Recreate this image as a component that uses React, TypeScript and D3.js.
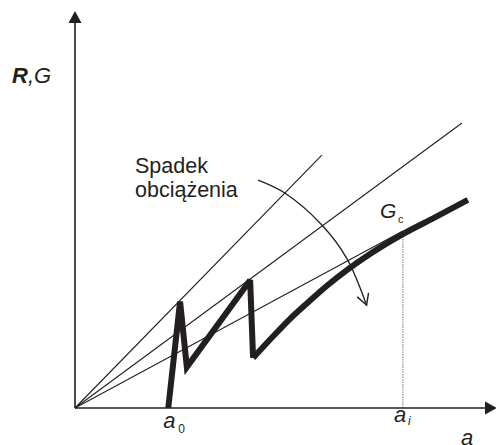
import React from "react";
import * as d3 from "d3";

const WIDTH = 496;
const HEIGHT = 445;

// Crack growth a, resistance R / energy release G (arbitrary units)
const sawtooth: [number, number][] = [
  [22.1, 0],
  [24.9, 26.8],
  [26.5, 10.3],
  [41.5, 32.2],
  [42.2, 12.6],
];

const resistanceCurve: [number, number][] = [
  [42.2, 12.6],
  [46.9, 18.0],
  [50.9, 22.4],
  [55.0, 26.4],
  [59.7, 30.8],
  [64.5, 34.8],
  [69.9, 38.8],
  [77.7, 43.8],
  [85.3, 48.0],
  [93.1, 52.4],
];

// Load lines G drawn from the origin: end points
const loadLines: [number, number][] = [
  [58.5, 63.7],
  [91.7, 71.8],
  [77.7, 44.6],
];

// "Spadek obciążenia" arc
const arcPoints: [number, number][] = [
  [43.4, 57.4],
  [49.8, 54.1],
  [58.5, 46.1],
  [64.4, 37.7],
  [69.1, 25.9],
];

const a0 = 22.1;
const ai = 77.7;
const gcAtAi = 43.2;

const FONT = "'Liberation Sans', Arial, sans-serif";
const INK = "#231f20";

export default function App() {
  const x = d3.scaleLinear().domain([0, 100]).range([75, 497]);
  const y = d3.scaleLinear().domain([0, 100]).range([408, 11]);

  const lin = d3
    .line<[number, number]>()
    .x((d) => x(d[0]))
    .y((d) => y(d[1]));
  const smooth = d3
    .line<[number, number]>()
    .x((d) => x(d[0]))
    .y((d) => y(d[1]))
    .curve(d3.curveMonotoneX);
  const arcLine = d3
    .line<[number, number]>()
    .x((d) => x(d[0]))
    .y((d) => y(d[1]))
    .curve(d3.curveCatmullRom.alpha(0.5));

  const x0 = x(0);
  const y0 = y(0);
  const xEnd = x(100);
  const yEnd = y(100);

  return (
    <svg
      width={WIDTH}
      height={HEIGHT}
      style={{ position: "absolute", left: 0, top: 0, background: "#fff" }}
      fontFamily={FONT}
    >
      <defs>
        <marker
          id="openArrow"
          markerUnits="userSpaceOnUse"
          markerWidth={24}
          markerHeight={24}
          refX={12}
          refY={12}
          orient="auto"
          viewBox="0 0 24 24"
        >
          <path
            d="M1,6 L12,12 L1,18"
            fill="none"
            stroke={INK}
            strokeWidth={1.4}
          />
        </marker>
      </defs>

      {/* load lines from the origin */}
      {loadLines.map((p, i) => (
        <path
          key={i}
          d={lin([[0, 0], p]) || ""}
          fill="none"
          stroke={INK}
          strokeWidth={1.1}
        />
      ))}

      {/* dotted marker at a_i */}
      <line
        x1={x(ai)}
        x2={x(ai)}
        y1={y(0)}
        y2={y(gcAtAi)}
        stroke="#777"
        strokeWidth={1}
        strokeDasharray="1.5,1"
      />

      {/* axes */}
      <line x1={x0} y1={y0} x2={x0} y2={yEnd + 11} stroke={INK} strokeWidth={1.6} />
      <path
        d={`M${x0},${yEnd} L${x0 - 6.5},${yEnd + 12} L${x0 + 6.5},${yEnd + 12} Z`}
        fill={INK}
      />
      <line x1={x0} y1={y0} x2={xEnd - 11} y2={y0} stroke={INK} strokeWidth={1.6} />
      <path
        d={`M${xEnd},${y0} L${xEnd - 12},${y0 - 6.5} L${xEnd - 12},${y0 + 6.5} Z`}
        fill={INK}
      />

      {/* sawtooth crack growth and resistance curve */}
      <path
        d={lin(sawtooth) || ""}
        fill="none"
        stroke={INK}
        strokeWidth={6}
        strokeLinejoin="miter"
        strokeMiterlimit={3}
      />
      <path
        d={smooth(resistanceCurve) || ""}
        fill="none"
        stroke={INK}
        strokeWidth={6}
        strokeLinejoin="round"
      />

      {/* decreasing load arrow */}
      <path
        d={arcLine(arcPoints) || ""}
        fill="none"
        stroke={INK}
        strokeWidth={1.3}
        markerEnd="url(#openArrow)"
      />

      {/* labels */}
      <text x={12} y={83} fontSize={22} fill={INK}>
        <tspan fontWeight="bold" fontStyle="italic">R</tspan>
        <tspan fontStyle="italic">,G</tspan>
      </text>
      <text x={135} y={173} fontSize={21.5} fill={INK}>
        Spadek
      </text>
      <text x={135} y={197} fontSize={21.5} fill={INK}>
        obciążenia
      </text>
      <text x={380} y={218} fontSize={21} fill={INK} fontStyle="italic">
        G
      </text>
      <text x={398} y={223} fontSize={11} fill={INK}>
        c
      </text>
      <text x={x(a0) - 5} y={428} fontSize={22} fill={INK} fontStyle="italic">
        a
      </text>
      <text x={x(a0) + 10} y={433} fontSize={12} fill={INK}>
        0
      </text>
      <text x={x(ai) - 9} y={422} fontSize={22} fill={INK} fontStyle="italic">
        a
      </text>
      <text x={x(ai) + 5} y={425} fontSize={12} fill={INK} fontStyle="italic">
        i
      </text>
      <text x={461} y={445} fontSize={22} fill={INK} fontStyle="italic">
        a
      </text>
    </svg>
  );
}
